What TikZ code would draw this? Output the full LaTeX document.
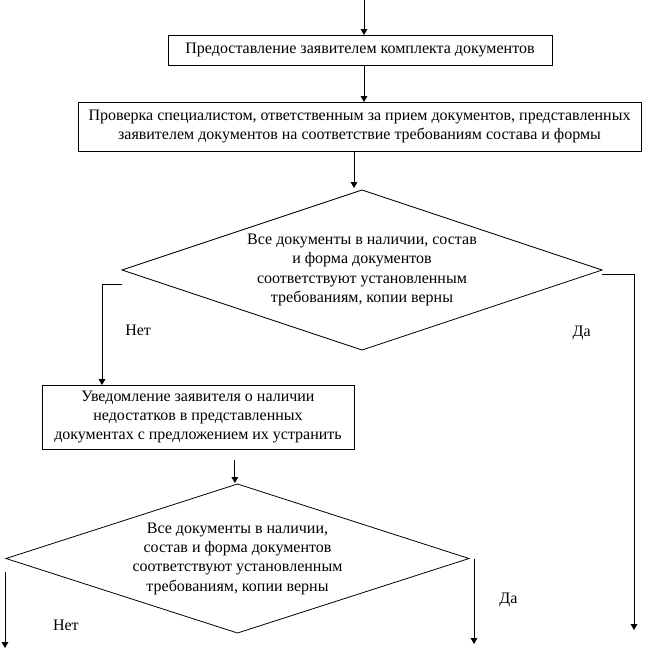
\documentclass[tikz,border=0pt]{standalone}
\usepackage{fontspec}
\setmainfont{Liberation Serif}
\usetikzlibrary{shapes.geometric,arrows.meta}
\begin{document}
\begin{tikzpicture}[x=0.75pt,y=-0.75pt,inner sep=0pt,outer sep=0pt,line width=0.6pt,
>={Triangle[length=4.5pt,width=5pt]},
font=\fontsize{12}{14.5}\selectfont,
stepbox/.style={draw,rectangle,align=center},
decision/.style={draw,diamond,aspect=3,align=center}]
\useasboundingbox (0,0) rectangle (645,653);
\coordinate (start) at (364,0);
\draw (360,50) node[stepbox,minimum width=288pt,minimum height=22.5pt] (submit) {Предоставление заявителем комплекта документов};
\draw (359.5,126.5) node[stepbox,minimum width=422.25pt,minimum height=36.75pt] (check) {Проверка специалистом, ответственным за прием документов, представленных\\заявителем документов на соответствие требованиям состава и формы};
\draw (362,270) node[decision,minimum width=360pt,minimum height=120pt] (ok1) {Все документы в наличии, состав\\и форма документов\\соответствуют установленным\\требованиям, копии верны};
\draw (198,417) node[stepbox,minimum width=234pt,minimum height=48pt] (notice) {Уведомление заявителя о наличии\\недостатков в представленных\\документах с предложением их устранить};
\draw (237.5,558.5) node[decision,minimum width=347.25pt,minimum height=111.75pt] (ok2) {Все документы в наличии,\\состав и форма документов\\соответствуют установленным\\требованиям, копии верны};
\coordinate (yes1) at (634,630);
\coordinate (no2) at (5,648);
\coordinate (yes2) at (474,644);
\draw[->] (start) -- (start |- submit.north);
\draw[->] ([xshift=3pt]submit.south) -- ([xshift=3pt]submit.south |- check.north);
\draw[->] ([xshift=-6pt]ok1.north |- check.south) -- ([xshift=-6pt,yshift=1.5pt]ok1.north);
\draw[->] ([yshift=-10.5pt]ok1.west) -| ([xshift=-72pt]notice.north) node[pos=0.73,right=17.5pt] {Нет};
\draw[->] ([yshift=-3pt]ok1.east) -| (yes1) node[pos=0.583,left=32.5pt] {Да};
\draw[->] ([xshift=-2pt,yshift=18pt]ok2.north) -- ([xshift=-2pt,yshift=0.75pt]ok2.north);
\draw[->] ([xshift=-0.75pt,yshift=-9.75pt]ok2.west) -- (no2) node[pos=0.7,right=36pt] {Нет};
\draw[->] ([xshift=3.75pt]ok2.east) -- (yes2) node[pos=0.49,right=19pt] {Да};
\end{tikzpicture}
\end{document}
